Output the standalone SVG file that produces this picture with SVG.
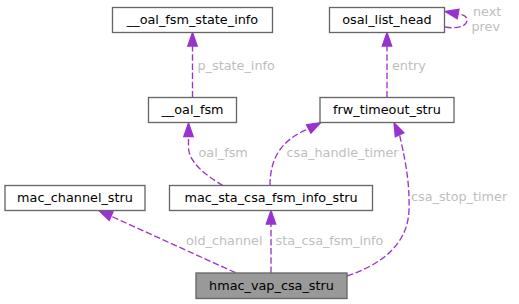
<svg xmlns="http://www.w3.org/2000/svg" width="519" height="304" viewBox="0 0 519 304">
<style>
.node rect{fill:#ffffff;stroke:#666666;stroke-width:1.33}
.node.main rect{fill:#999999}
.node text{font-family:"DejaVu Sans",sans-serif;font-size:12.8px;fill:#000000;text-anchor:middle}
.edge path{fill:none;stroke:#9a32cd;stroke-width:1.33;stroke-dasharray:6.5,2.7}
.edge polygon{fill:#9a32cd;stroke:#9a32cd;stroke-width:1.33}
.lbl{font-family:"DejaVu Sans",sans-serif;font-size:12.8px;fill:#bebebe}
</style>
<rect width="519" height="304" fill="#ffffff"/>
<g id="edges">
  <g class="edge" id="e_fsm_state">
    <path d="M192.5,97.5 L192.5,46"/>
    <polygon points="192.5,32.5 197.2,46 187.8,46"/>
    <text class="lbl" x="197.5" y="69.5">p_state_info</text>
  </g>
  <g class="edge" id="e_entry">
    <path d="M387,97.5 L387,46"/>
    <polygon points="387,32.5 391.7,46 382.3,46"/>
    <text class="lbl" x="392" y="69.5">entry</text>
  </g>
  <g class="edge" id="e_self">
    <path d="M445,27 C456,29 467,27 467,20 C467,16 463,14.5 458.06,14.01"/>
    <polygon points="445,11.5 458.94,9.42 457.18,18.6"/>
    <text class="lbl" x="473" y="16">next</text>
    <text class="lbl" x="471.5" y="30.5">prev</text>
  </g>
  <g class="edge" id="e_oal_fsm">
    <path d="M223,185.5 C205,175 189,162 188.5,148 L188.5,136.5"/>
    <polygon points="188.5,123 193.2,136.5 183.8,136.5"/>
    <text class="lbl" x="198.5" y="157">oal_fsm</text>
  </g>
  <g class="edge" id="e_handle">
    <path d="M270,185.5 C270,160 280,140 308.7,128.85"/>
    <polygon points="320.5,122.7 310.86,132.99 306.54,124.71"/>
    <text class="lbl" x="286.5" y="157">csa_handle_timer</text>
  </g>
  <g class="edge" id="e_stop">
    <path d="M347,276 C380,265 408,245 409,210 C410,180 404,155 399.6,134.8"/>
    <polygon points="394,122.7 403.85,132.84 395.35,136.76"/>
    <text class="lbl" x="411" y="201">csa_stop_timer</text>
  </g>
  <g class="edge" id="e_fsm_info">
    <path d="M271,273 L271,224"/>
    <polygon points="271,210.5 275.7,224 266.3,224"/>
    <text class="lbl" x="275.5" y="245">sta_csa_fsm_info</text>
  </g>
  <g class="edge" id="e_old_channel">
    <path d="M235.5,272.7 L111.1,216.2"/>
    <polygon points="99,210.7 113,211.95 109.2,220.45"/>
    <text class="lbl" x="186" y="245">old_channel</text>
  </g>
</g>
<g class="node" id="n_oal_fsm_state_info">
  <rect x="112.5" y="7.5" width="160" height="25"/>
  <text x="192.5" y="24">__oal_fsm_state_info</text>
</g>
<g class="node" id="n_osal_list_head">
  <rect x="329.5" y="7.5" width="115" height="25"/>
  <text x="387" y="24">osal_list_head</text>
</g>
<g class="node" id="n_oal_fsm">
  <rect x="148.5" y="97.5" width="88" height="25"/>
  <text x="192.5" y="114">__oal_fsm</text>
</g>
<g class="node" id="n_frw_timeout_stru">
  <rect x="320" y="97.5" width="134" height="25"/>
  <text x="387" y="114">frw_timeout_stru</text>
</g>
<g class="node" id="n_mac_channel_stru">
  <rect x="5" y="185.5" width="140" height="25"/>
  <text x="75" y="202">mac_channel_stru</text>
</g>
<g class="node" id="n_mac_sta_csa_fsm_info_stru">
  <rect x="169.5" y="185.5" width="203" height="25"/>
  <text x="271" y="202">mac_sta_csa_fsm_info_stru</text>
</g>
<g class="node main" id="n_hmac_vap_csa_stru">
  <rect x="196" y="273" width="151" height="25.5"/>
  <text x="271.5" y="290">hmac_vap_csa_stru</text>
</g>
</svg>
